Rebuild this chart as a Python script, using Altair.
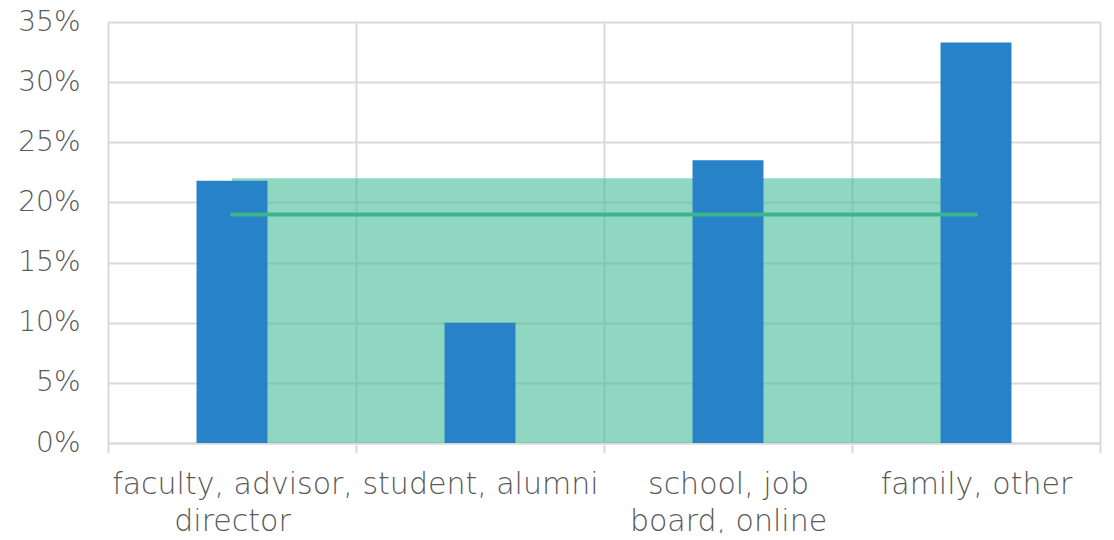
import altair as alt
import pandas as pd

categories = ["faculty, advisor, director", "student, alumni",
              "school, job board, online", "family, other"]
label_lines = {
    "faculty, advisor, director": ["faculty, advisor,", "director"],
    "school, job board, online": ["school, job", "board, online"],
}
share = [0.218, 0.100, 0.235, 0.333]
band_values = [0.22, 0.22, 0.22, 0.22]
avg_values = [0.19, 0.19, 0.19, 0.19]
y_ticks = [0, 0.05, 0.10, 0.15, 0.20, 0.25, 0.30, 0.35]

bars_df = pd.DataFrame({"category": categories, "value": share})
band_df = pd.DataFrame({"category": categories, "value": band_values})
avg_df = pd.DataFrame({"category": categories, "value": avg_values})

expr = "datum.label"
for k, v in label_lines.items():
    arr = "[" + ", ".join("'" + s + "'" for s in v) + "]"
    expr = f"datum.value == '{k}' ? {arr} : ({expr})"

FONT = "DejaVu Sans"
TXT = "#595959"
GRID = "#d9d9d9"

x = alt.X("category:N", sort=categories,
          scale=alt.Scale(paddingInner=0, paddingOuter=0),
          axis=alt.Axis(title=None, labelAngle=0, tickBand="extent", grid=True,
                        gridColor=GRID, gridWidth=2, domainColor=GRID, domainWidth=2,
                        tickColor=GRID, tickWidth=2, tickSize=10,
                        labelFont=FONT, labelFontSize=30, labelFontWeight=300,
                        labelColor=TXT,
                        labelLineHeight=37, labelPadding=16, labelExpr=expr,
                        labelLimit=400))
y = alt.Y("value:Q", scale=alt.Scale(domain=[0, 0.35]),
          axis=alt.Axis(title=None, format="%", values=y_ticks, domain=False, ticks=False,
                        gridColor=GRID, gridWidth=2, labelFont=FONT, labelFontSize=28,
                        labelFontWeight=300,
                        labelColor=TXT, labelPadding=28))

area = alt.Chart(band_df).mark_area(color="#45BD97", opacity=0.6).encode(x=x, y=y)
bars = alt.Chart(bars_df).mark_bar(color="#2882c8",
                                   width=alt.RelativeBandSize(0.286)).encode(x=x, y=y)
line = alt.Chart(avg_df).mark_line(color="#3cb48c", strokeWidth=4,
                                   strokeCap="round").encode(x=x, y=y)

chart = alt.layer(area, bars, line).properties(
    width=992, height=421,
    autosize=alt.AutoSizeParams(type="none"),
    padding={"left": 100, "top": 14, "right": 6, "bottom": 90},
    background="white",
).configure_view(stroke=None)

chart.save("out.html", embed_options={"renderer": "svg", "actions": False})
